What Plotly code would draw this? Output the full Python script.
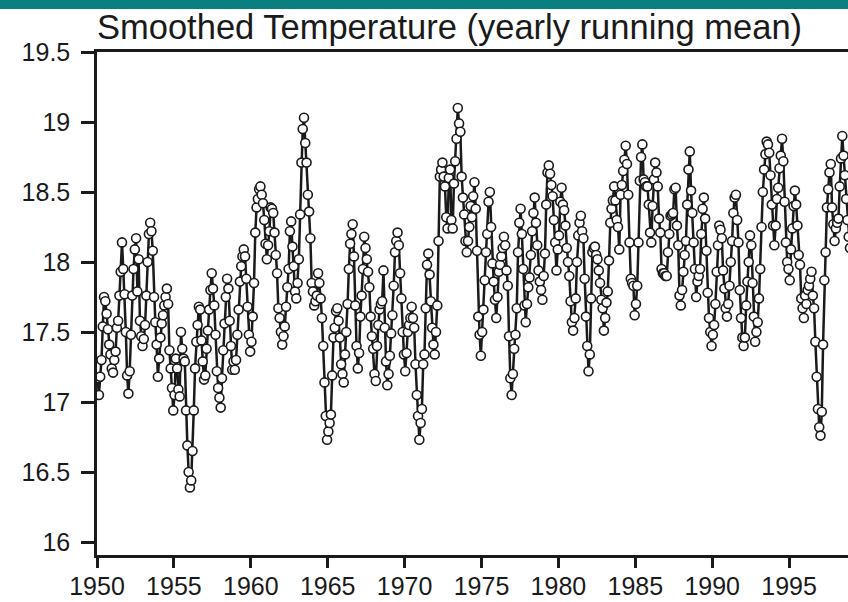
import plotly.graph_objects as go

# Monthly smoothed temperature values, one list per decade (Jan..Dec per year)
temps_1950s = [
    17.17, 17.05, 17.18, 17.30, 17.54, 17.75, 17.72, 17.63, 17.52, 17.41, 17.34, 17.24,
    17.21, 17.30, 17.36, 17.53, 17.58, 17.76, 17.93, 18.14, 17.95, 17.77, 17.50, 17.19,
    17.06, 17.22, 17.48, 17.76, 17.95, 18.09, 18.17, 17.79, 18.02, 17.58, 17.47, 17.40,
    17.45, 17.55, 17.76, 18.00, 18.20, 18.28, 18.22, 18.08, 17.75, 17.57, 17.41, 17.18,
    17.31, 17.46, 17.56, 17.62, 17.69, 17.75, 17.81, 17.70, 17.37, 17.24, 17.10, 16.94,
    17.05, 17.31, 17.24, 17.09, 17.04, 17.50, 17.38, 17.31, 17.29, 16.94, 16.69, 16.50,
    16.39, 16.44, 16.65, 16.94, 17.24, 17.43, 17.55, 17.68, 17.66, 17.44, 17.29, 17.16,
    17.19, 17.38, 17.51, 17.66, 17.80, 17.92, 17.81, 17.69, 17.48, 17.22, 17.10, 17.03,
    16.96, 17.17, 17.37, 17.56, 17.75, 17.88, 17.81, 17.58, 17.40, 17.23, 17.29, 17.23,
    17.30, 17.48, 17.66, 17.86, 17.97, 18.04, 18.09, 18.04, 17.88, 17.68, 17.48, 17.36,
]
temps_1960s = [
    17.43, 17.61, 17.85, 18.21, 18.39, 18.45, 18.52, 18.54, 18.48, 18.42, 18.30, 18.13,
    18.02, 18.12, 18.22, 18.39, 18.38, 18.35, 18.21, 18.05, 17.92, 17.67, 17.60, 17.50,
    17.41, 17.47, 17.54, 17.68, 17.82, 17.95, 18.22, 18.29, 18.11, 17.97, 17.79, 17.74,
    17.85, 18.02, 18.34, 18.71, 18.95, 19.03, 18.85, 18.71, 18.48, 18.36, 18.17, 17.85,
    17.79, 17.69, 17.72, 17.76, 17.92, 17.85, 17.74, 17.60, 17.40, 17.14, 16.90, 16.73,
    16.79, 16.85, 16.91, 17.19, 17.46, 17.53, 17.65, 17.67, 17.58, 17.46, 17.27, 17.20,
    17.14, 17.34, 17.50, 17.70, 17.95, 18.13, 18.20, 18.27, 18.04, 17.69, 17.40, 17.24,
    17.35, 17.61, 17.76, 17.95, 18.18, 18.10, 18.02, 17.93, 17.82, 17.61, 17.47, 17.38,
    17.20, 17.15, 17.40, 17.55, 17.66, 17.70, 17.72, 17.94, 17.53, 17.29, 17.12, 17.20,
    17.33, 17.49, 17.62, 17.83, 18.07, 18.15, 18.21, 18.12, 17.92, 17.74, 17.50, 17.34,
]
temps_1970s = [
    17.22, 17.35, 17.50, 17.55, 17.60, 17.68, 17.60, 17.53, 17.27, 17.05, 16.90, 16.73,
    16.85, 16.95, 17.27, 17.34, 17.67, 17.98, 18.06, 17.91, 17.72, 17.53, 17.41, 17.34,
    17.50, 17.69, 18.15, 18.61, 18.66, 18.71, 18.61, 18.54, 18.32, 18.24, 18.60, 18.66,
    18.30, 18.24, 18.56, 18.72, 18.88, 19.10, 18.99, 18.93, 18.61, 18.46, 18.34, 18.15,
    18.07, 18.15, 18.25, 18.40, 18.32, 18.47, 18.57, 18.38, 18.08, 17.61, 17.48, 17.33,
    17.50, 17.66, 17.87, 18.07, 18.20, 18.43, 18.50, 18.25, 17.99, 17.86, 17.73, 17.60,
    17.75, 17.93, 17.98, 18.04, 18.10, 18.18, 18.12, 17.94, 17.83, 17.47, 17.17, 17.05,
    17.20, 17.38, 17.48, 17.67, 18.07, 18.28, 18.38, 18.20, 17.95, 17.69, 17.57, 17.70,
    17.82, 17.89, 18.05, 18.22, 18.35, 18.46, 18.28, 18.12, 17.94, 17.86, 17.80, 17.73,
    17.90, 18.06, 18.41, 18.64, 18.69, 18.63, 18.55, 18.47, 18.30, 18.14, 17.94, 18.09,
]
temps_1980s = [
    18.19, 18.43, 18.53, 18.41, 18.37, 18.26, 18.10, 18.00, 17.90, 17.72, 17.57, 17.51,
    17.60, 17.74, 18.00, 18.19, 18.28, 18.33, 18.22, 18.17, 17.88, 17.61, 17.40, 17.22,
    17.34, 17.74, 18.07, 18.10, 18.11, 18.05, 18.02, 17.94, 17.85, 17.73, 17.67, 17.51,
    17.60, 17.71, 17.79, 18.01, 18.28, 18.38, 18.44, 18.54, 18.44, 18.30, 18.25, 18.09,
    18.48, 18.55, 18.65, 18.73, 18.83, 18.70, 18.48, 18.14, 17.88, 17.85, 17.83, 17.62,
    17.70, 17.83, 18.14, 18.58, 18.75, 18.84, 18.59, 18.57, 18.54, 18.54, 18.41, 18.21,
    18.14, 18.40, 18.59, 18.71, 18.64, 18.54, 18.31, 18.21, 17.95, 17.92, 17.92, 17.90,
    17.90, 18.07, 18.20, 18.33, 18.34, 18.35, 18.52, 18.53, 18.26, 18.12, 17.76, 17.69,
    17.80, 17.93, 18.05, 18.15, 18.41, 18.66, 18.79, 18.51, 18.35, 18.14, 17.95, 17.75,
    17.86, 17.90, 17.95, 18.20, 18.38, 18.46, 18.31, 18.08, 17.78, 17.60, 17.50, 17.40,
]
temps_1990s = [
    17.48, 17.55, 17.70, 17.93, 18.12, 18.26, 18.23, 18.17, 17.94, 17.81, 17.67, 17.61,
    17.70, 17.83, 18.00, 18.15, 18.35, 18.46, 18.48, 18.30, 18.14, 17.80, 17.60, 17.46,
    17.40, 17.46, 17.69, 17.86, 18.00, 18.19, 18.12, 17.85, 17.61, 17.43, 17.50, 17.57,
    17.74, 17.95, 18.25, 18.50, 18.66, 18.77, 18.86, 18.84, 18.78, 18.62, 18.41, 18.26,
    18.12, 18.26, 18.45, 18.53, 18.67, 18.76, 18.88, 18.72, 18.43, 18.14, 18.00, 17.95,
    17.87, 18.09, 18.24, 18.40, 18.51, 18.41, 18.26, 18.05, 17.98, 17.74, 17.67, 17.60,
    17.76, 17.70, 17.80, 17.83, 17.88, 17.93, 17.76, 17.67, 17.43, 17.18, 16.95, 16.82,
    16.76, 16.93, 17.41, 17.87, 18.07, 18.39, 18.52, 18.64, 18.70, 18.39, 18.27, 18.15,
    18.24, 18.28, 18.31, 18.54, 18.74, 18.90, 18.76, 18.62, 18.45, 18.30, 18.18, 18.10,
]
decade_starts = [1950, 1960, 1970, 1980, 1990]

x_tick_vals = [1950, 1955, 1960, 1965, 1970, 1975, 1980, 1985, 1990, 1995]
x_tick_text = ["1950", "1955", "1960", "1965", "1970", "1975", "1980", "1985", "1990", "1995"]
y_tick_vals = [16, 16.5, 17, 17.5, 18, 18.5, 19, 19.5]
y_tick_text = ["16", "16.5", "17", "17.5", "18", "18.5", "19", "19.5"]
title_text = "Smoothed Temperature (yearly running mean)"

xs, ys = [], []
for start, vals in zip(decade_starts,
                       [temps_1950s, temps_1960s, temps_1970s, temps_1980s, temps_1990s]):
    for i, v in enumerate(vals):
        xs.append(start + (i + 0.5) / 12.0)
        ys.append(v)

W, H = 848, 602
ML, MT, MB, MR = 97, 52, 47, 0
plot_h = H - MT - MB
PX_PER_UNIT = 140.0
PX_PER_YEAR = 15.38

FONT = "Liberation Sans, Arial, Helvetica, sans-serif"
INK = "#1a1a1a"

fig = go.Figure()
fig.add_trace(go.Scatter(
    x=xs, y=ys, mode="lines+markers",
    line=dict(color=INK, width=2.5),
    marker=dict(symbol="circle", size=9, color="white",
                line=dict(color=INK, width=1.6)),
    showlegend=False, hoverinfo="skip",
))

fig.update_layout(
    width=W, height=H,
    margin=dict(l=ML, r=MR, t=MT, b=MB, pad=0),
    paper_bgcolor="white", plot_bgcolor="white",
    title=dict(text=title_text, x=ML / W, xanchor="left", xref="container",
               y=1 - 27 / H, yanchor="middle", yref="container",
               font=dict(family=FONT, size=34.5, color=INK)),
    xaxis=dict(range=[1950, 1950 + (W - ML) / PX_PER_YEAR],
               tickmode="array", tickvals=x_tick_vals, ticktext=x_tick_text,
               ticks="outside", ticklen=10, tickwidth=2.5, tickcolor=INK,
               ticklabelstandoff=-3,
               showline=True, linewidth=3, linecolor=INK, mirror=True,
               showgrid=False, zeroline=False, automargin=False,
               tickfont=dict(family=FONT, size=25, color=INK)),
    yaxis=dict(range=[19.5 - plot_h / PX_PER_UNIT, 19.5],
               tickmode="array", tickvals=y_tick_vals, ticktext=y_tick_text,
               ticks="outside", ticklen=13, tickwidth=2.5, tickcolor=INK,
               ticklabelstandoff=6,
               showline=True, linewidth=2.5, linecolor=INK,
               showgrid=False, zeroline=False, automargin=False,
               tickfont=dict(family=FONT, size=25, color=INK)),
    shapes=[dict(type="rect", xref="paper", yref="paper",
                 x0=-ML / (W - ML), x1=1.0,
                 y0=1 + (MT - 9) / plot_h, y1=1 + MT / plot_h,
                 fillcolor="#0a7f7f", line=dict(width=0), layer="above")],
)

fig.write_html(
    "out.html",
    config={"displayModeBar": False},
    post_script="document.body.style.margin='0px';document.body.style.overflow='hidden';",
)
